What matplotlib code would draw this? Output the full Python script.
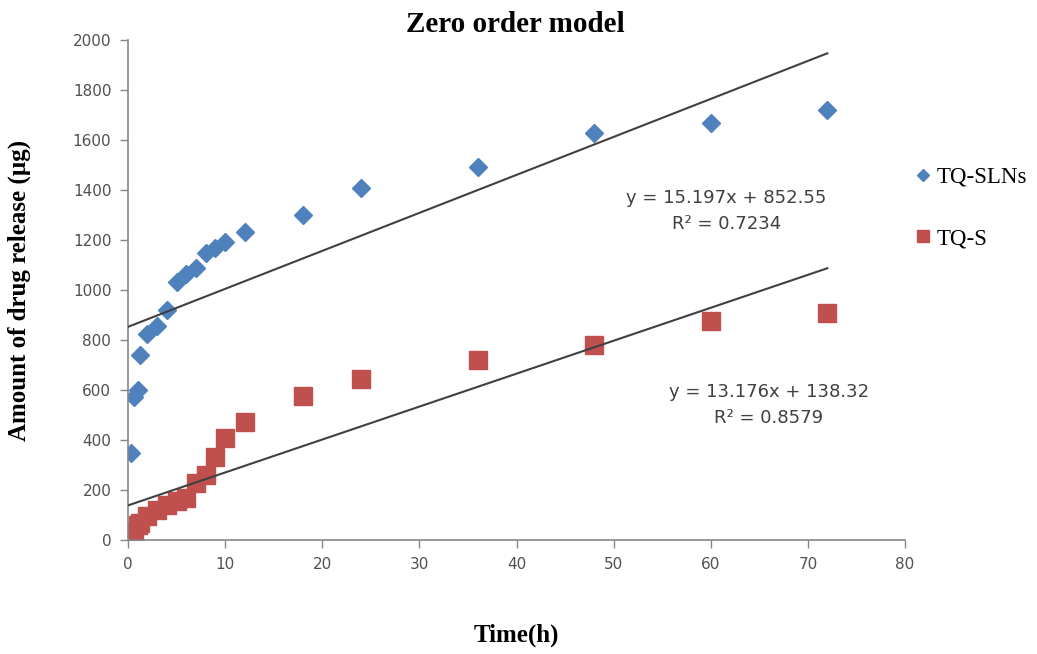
import matplotlib
matplotlib.use("Agg")
import numpy as np
import matplotlib.pyplot as plt

# sampling times (h) and cumulative release (ug)
time_h = [0.33, 0.6, 1, 1.2, 2, 3, 4, 5, 6, 7, 8, 9, 10, 12, 18, 24, 36, 48, 60, 72]
tq_slns = [347, 573, 600, 740, 825, 855, 920, 1033, 1065, 1090, 1147, 1167, 1193, 1233,
           1300, 1408, 1492, 1628, 1667, 1720]
tq_s = [15, 35, 60, 70, 95, 120, 140, 155, 170, 230, 260, 333, 410, 473,
        576, 644, 720, 780, 876, 908]

# linear fits (zero order)
slns_fit = (15.197, 852.55, 0.7234)
s_fit = (13.176, 138.32, 0.8579)

blue = "#4F81BD"
red = "#C0504D"
gray = "#868686"
serif = "Liberation Serif"

fig = plt.figure(figsize=(10.37, 6.54), dpi=100)
ax = fig.add_axes([128 / 1037, 1 - 540 / 654, 777 / 1037, 500 / 654])

ax.plot(time_h, tq_slns, linestyle="none", marker="D", markersize=9.5,
        color=blue, label="TQ-SLNs", zorder=2)
ax.plot(time_h, tq_s, linestyle="none", marker="s", markersize=13.5,
        color=red, label="TQ-S", zorder=2)

xs = np.array([0, 72])
for slope, icpt, r2 in (slns_fit, s_fit):
    ax.plot(xs, slope * xs + icpt, color="#404040", lw=1.5, zorder=3)

ax.text(61.6, 1316, "y = %.3fx + %.2f\nR² = %.4f" % slns_fit, ha="center", va="center",
        fontsize=13, color="#404040", linespacing=1.6)
ax.text(66.0, 540, "y = %.3fx + %.2f\nR² = %.4f" % s_fit, ha="center", va="center",
        fontsize=13, color="#404040", linespacing=1.6)

ax.set_xlim(0, 80)
ax.set_ylim(0, 2000)
ax.set_xticks(range(0, 81, 10))
ax.set_yticks(range(0, 2001, 200))
ax.tick_params(direction="out", length=6, width=1, color=gray,
               labelsize=11, labelcolor="#505050", pad=6)
for side in ("top", "right"):
    ax.spines[side].set_visible(False)
for side in ("left", "bottom"):
    ax.spines[side].set_color(gray)
    ax.spines[side].set_linewidth(1.2)

ax.set_xlabel("Time(h)", family=serif, fontweight="bold", fontsize=18)
ax.xaxis.set_label_coords(0.5, -0.19)
ax.xaxis.label.set_va("center")
ax.set_ylabel("Amount of drug release (µg)", family=serif, fontweight="bold", fontsize=18)
ax.yaxis.set_label_coords(-0.14, 0.5)
ax.yaxis.label.set_va("center")

fig.text(515 / 1037, 1 - 25 / 654, "Zero order model", ha="center", va="center",
         family=serif, fontweight="bold", fontsize=21)

leg = ax.legend(loc="center left", bbox_to_anchor=(914 / 1037, 1 - 208 / 654),
                bbox_transform=fig.transFigure, frameon=False, markerscale=0.62,
                handlelength=0.75, handletextpad=0.25, labelspacing=1.75,
                borderaxespad=0, borderpad=0,
                prop={"family": serif, "size": 16.5})

fig.savefig("out.png", dpi=100)
